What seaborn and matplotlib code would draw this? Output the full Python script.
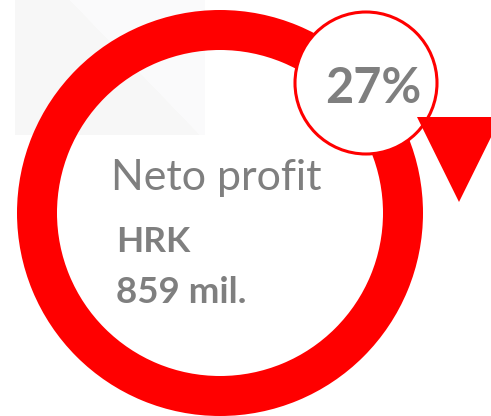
import matplotlib
matplotlib.use("Agg")
import matplotlib.pyplot as plt
import seaborn as sns
from matplotlib.patches import Circle, Polygon, Wedge

# values shown on the infographic
label = "Neto profit"
currency = "HRK"
profit_value = 859
profit_unit = "mil."
growth_pct = 27

sns.set_style("white")
plt.rcParams["font.family"] = ["Lato", "DejaVu Sans"]

grey_text = "#7f7f7f"
red = "#ff0000"

fig = plt.figure(figsize=(4.91, 4.16), dpi=100)
ax = fig.add_axes([0, 0, 1, 1])
ax.set_xlim(0, 491)
ax.set_ylim(416, 0)
ax.set_aspect("equal")
ax.axis("off")

# faint background shape in the top-left
ax.add_patch(Polygon([(15, 0), (70, 0), (200, 135), (15, 135)], closed=True,
                     facecolor="#f7f7f7", edgecolor="none", zorder=0))
ax.add_patch(Polygon([(70, 0), (205, 0), (205, 135), (200, 135)], closed=True,
                     facecolor="#fafafb", edgecolor="none", zorder=0))

# big ring
ax.add_patch(Wedge((220, 213), 203, 0, 360, width=40, facecolor=red,
                   edgecolor="none", zorder=1))

# small badge circle
ax.add_patch(Circle((366, 83), 71, facecolor="white", edgecolor=red,
                    linewidth=2.2, zorder=2))

# arrow head
ax.add_patch(Polygon([(417, 117), (501, 117), (459, 202)], closed=True,
                     facecolor=red, edgecolor="none", zorder=3))

ax.text(111, 190, label, fontsize=31, color=grey_text, ha="left",
        va="baseline", zorder=4)
ax.text(116, 252, currency, fontsize=25.5, fontweight="bold", color=grey_text,
        ha="left", va="baseline", zorder=4)
ax.text(116, 303, f"{profit_value} {profit_unit}", fontsize=26.5,
        fontweight="bold", color=grey_text, ha="left", va="baseline", zorder=4)
ax.text(373, 103, f"{growth_pct}%", fontsize=35, fontweight="bold",
        color=grey_text, ha="center", va="baseline", zorder=4)

fig.savefig("out.png", dpi=100)
